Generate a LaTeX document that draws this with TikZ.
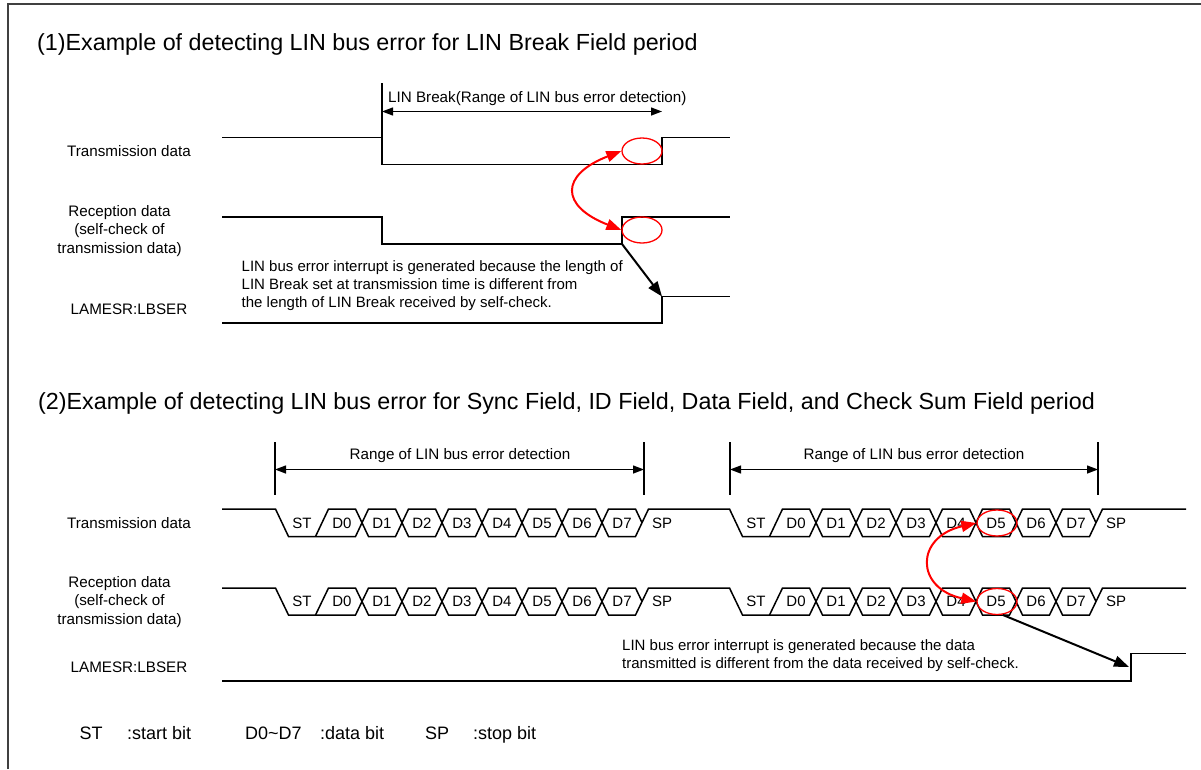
\documentclass[tikz,border=0pt]{standalone}
\usepackage{fontspec}
\setmainfont{Liberation Sans}
\usetikzlibrary{arrows.meta,shapes.geometric}
\newcommand{\uartframe}[6]{% #1 ST centre x, #2 top y, #3 bottom y, #4 start x, #5 end x, #6 name prefix
  \draw[wave] (#4,#2) -- (#1-6.5,#2) -- (#1+6.5,#3)
    \foreach \k [evaluate=\k as \xa using #1+40*\k+33.5,
                 evaluate=\k as \xb using #1+40*\k+46.5,
                 evaluate=\k as \ya using #2+(#3-#2)*(\k-2*floor(\k/2)),
                 evaluate=\k as \yb using #3-(#3-#2)*(\k-2*floor(\k/2))] in {1,...,7} { -- (\xa,\ya) -- (\xb,\yb) }
    -- (#1+353.5,#2) -- (#1+360,#2/2+#3/2);
  \draw[wave] (#1+33.5,#3) -- (#1+46.5,#2)
    \foreach \k [evaluate=\k as \xa using #1+40*\k+33.5,
                 evaluate=\k as \xb using #1+40*\k+46.5,
                 evaluate=\k as \ya using #3-(#3-#2)*(\k-2*floor(\k/2)),
                 evaluate=\k as \yb using #2+(#3-#2)*(\k-2*floor(\k/2))] in {1,...,7} { -- (\xa,\ya) -- (\xb,\yb) }
    -- (#1+353.5,#3) -- (#1+366.5,#2) -- (#5,#2);
  \node[bitlbl] (#6st) at (#1+20,#2/2+#3/2) {ST};
  \foreach \i in {0,...,7} {\node[bitlbl] (#6d\i) at (#1+40*\i+60,#2/2+#3/2) {D\i};}
  \node[bitlbl] (#6sp) at (#1+380,#2/2+#3/2) {SP};
}
\begin{document}
\begin{tikzpicture}[x=1pt,y=-1pt,
  wave/.style={line width=1.5pt, line join=miter},
  lbl/.style={font=\fontsize{15.2}{18.3}\selectfont, inner sep=0pt, align=center},
  bitlbl/.style={font=\fontsize{15}{18}\selectfont, inner sep=0pt, text height=10.8pt, text depth=0pt},
  txt/.style={font=\fontsize{15}{18}\selectfont, inner sep=0pt, align=left, anchor=north west},
  ttl/.style={font=\fontsize{23.3}{26}\selectfont, inner sep=0pt, anchor=west},
  leg/.style={font=\fontsize{18}{20}\selectfont, inner sep=0pt, anchor=west, text height=13pt, text depth=0pt},
  rangearr/.style={line width=1.3pt, {Triangle[length=11pt,width=8pt]}-{Triangle[length=11pt,width=8pt]}},
  blackarr/.style={line width=2pt, -{Triangle[length=15pt,width=11pt]}},
  redarr/.style={red, line width=2pt, {Triangle[length=15pt,width=11pt]}-{Triangle[length=15pt,width=11pt]}},
  redell/.style={ellipse, draw=red, line width=1.3pt, minimum width=40pt, minimum height=26pt, inner sep=0pt},
  frameline/.style={draw=black!75, line width=2pt},
  tickline/.style={line width=1.3pt}
]
\useasboundingbox (0,0) rectangle (1201,769);
\draw[frameline] (8,769) -- (8,4) -- (1201,4);

% ---------- section 1 ----------
\node[ttl] (t1) at (37,44) {(1)Example of detecting LIN bus error for LIN Break Field period};
\node[lbl] (l1) at (129,151) {Transmission data};
\node[lbl] (l2) at (119.5,231) {Reception data\\(self-check of\\transmission data)};
\node[lbl] (l3) at (129,309) {LAMESR:LBSER};

\draw[wave] (222,137.5) -- (382,137.5) -- (382,164.5) -- (662,164.5) -- (662,137.5) -- (730,137.5);
\draw[wave] (222,217) -- (382,217) -- (382,244) -- (622,244) -- (622,217) -- (730,217);
\draw[wave] (222,323) -- (662,323) -- (662,296.5) -- (730,296.5);

\coordinate (rb1) at (382,111.5);
\coordinate (rb2) at (662,111.5);
\coordinate (rb1top) at (382,83);
\coordinate (rb1bot) at (382,137.5);
\draw[tickline] (rb1top) -- (rb1bot);
\draw[rangearr] (rb1) -- (rb2);
\node[lbl, anchor=west] (rl1) at (388,98.5) {LIN Break(Range of LIN bus error detection)};

\node[redell] (e1) at (642,151) {};
\node[redell] (e2) at (642,230) {};
\draw[redarr] (e2.west) .. controls (560,206) and (560,175) .. (e1.west);

\coordinate (ba1s) at (622,244);
\coordinate (ba1e) at (662,296.5);
\draw[blackarr] (ba1s) -- (ba1e);

\node[txt] (tb1) at (241.5,260.5) {LIN bus error interrupt is generated because the length of\\LIN Break set at transmission time is different from\\the length of LIN Break received by self-check.};

% ---------- section 2 ----------
\node[ttl] (t2) at (38,403) {(2)Example of detecting LIN bus error for Sync Field, ID Field, Data Field, and Check Sum Field period};
\node[lbl] (l4) at (129,523.5) {Transmission data};
\node[lbl] (l5) at (119.5,602) {Reception data\\(self-check of\\transmission data)};
\node[lbl] (l6) at (129,667.5) {LAMESR:LBSER};

\foreach \n/\x in {ga/275, gb/644, gc/730, gd/1098} {
  \coordinate (\n-top) at (\x,442);
  \coordinate (\n-bot) at (\x,495);
  \coordinate (\n-mid) at (\x,469.5);
  \draw[tickline] (\n-top) -- (\n-bot);
}
\draw[rangearr] (ga-mid) -- (gb-mid);
\draw[rangearr] (gc-mid) -- (gd-mid);
\node[lbl] (rl2) at (460,455.5) {Range of LIN bus error detection};
\node[lbl] (rl3) at (914,455.5) {Range of LIN bus error detection};

\uartframe{282}{509}{536.5}{222}{730}{ta}
\uartframe{736}{509}{536.5}{729.5}{1186}{tb}
\uartframe{282}{588}{615}{222}{730}{ra}
\uartframe{736}{588}{615}{729.5}{1186}{rb}

\draw[wave] (222,681) -- (1131,681) -- (1131,653.5) -- (1186,653.5);

\node[redell] (e3) at (997,523) {};
\node[redell] (e4) at (997,601.5) {};
\draw[redarr] (e4.west) .. controls (915,588) and (915,537) .. (e3.west);

\coordinate (ba2s) at (1003,615);
\coordinate (ba2e) at (1129,667);
\draw[blackarr] (ba2s) -- (ba2e);

\node[txt] (tb2) at (622,639.5) {LIN bus error interrupt is generated because the data\\transmitted is different from the data received by self-check.};

% ---------- legend ----------
\node[leg] (lg1) at (79.5,733) {ST};
\node[leg] (lg2) at (127,733) {:start bit};
\node[leg] (lg3) at (245,733) {D0\textasciitilde D7};
\node[leg] (lg4) at (320,733) {:data bit};
\node[leg] (lg5) at (425,733) {SP};
\node[leg] (lg6) at (473,733) {:stop bit};
\end{tikzpicture}
\end{document}
